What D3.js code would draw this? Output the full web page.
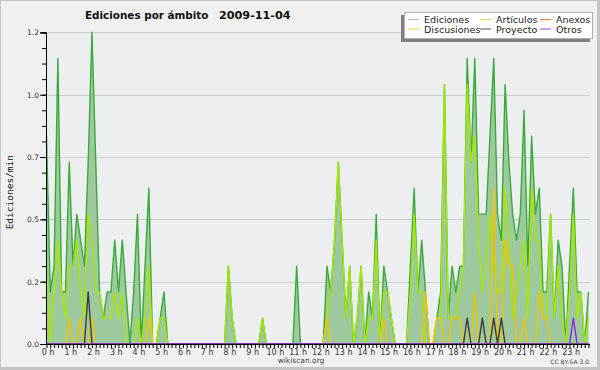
<!DOCTYPE html>
<html><head><meta charset="utf-8">
<script src="https://cdn.jsdelivr.net/npm/d3@7/dist/d3.min.js"></script>
<style>body{margin:0;background:#fff}svg{display:block}</style>
</head><body><svg id="c" width="600" height="370"></svg>
<script>
// ---------- data (10-minute buckets, edits per minute) ----------
const hourLabels = ["0 h","1 h","2 h","3 h","4 h","5 h","6 h","7 h","8 h","9 h","10 h","11 h",
  "12 h","13 h","14 h","15 h","16 h","17 h","18 h","19 h","20 h","21 h","22 h","23 h"];
const yTickValues = [0, 0.24, 0.48, 0.72, 0.96, 1.2];
const yTickLabels = ["0.0","0.2","0.5","0.7","1.0","1.2"];
const seriesNames = ["Ediciones","Artículos","Anexos","Discusiones","Proyecto","Otros"];
const seriesColors = ["#3aab3a","#a6e800","#ff6a2a","#f2c300","#3c3c3c","#8a2be2"];
const legendColors = ["#8fd38f","#c8ee55","#ff7744","#ffcc44","#555555","#9a40ff"];

const ediciones = [
  0.8,0.2,0.3,1.1,0.2,0.2, 0.7,0.3,0.5,0.4,0.3,0.7,
  1.2,0.7,0.2,0.1,0.2,0.2, 0.4,0.2,0.4,0.2,0,0.2,
  0.5,0,0.3,0.6,0,0, 0.1,0.2,0,0,0,0,
  0,0,0,0,0,0, 0,0,0,0,0,0,
  0.3,0.1,0,0,0,0, 0,0,0,0.1,0,0,
  0,0,0,0,0,0, 0.3,0,0,0,0,0,
  0,0,0.3,0.2,0.4,0.7, 0.4,0.1,0.3,0,0.1,0.3,
  0,0.2,0.1,0.5,0,0.3, 0.2,0.1,0,0,0,0,
  0.3,0.6,0.2,0.4,0.2,0, 0,0.1,0.2,1.0,0.1,0.3,
  0.2,0.3,0.3,1.1,0.7,1.1, 0.5,0.5,0.5,0.8,1.1,0.5,
  0.4,1.0,0.7,0.5,0.4,0.5, 0.9,0.3,0.8,0.5,0.6,0.2,
  0.2,0.5,0.1,0.4,0.3,0, 0.3,0.6,0.2,0.2,0,0.2];
const articulos = [
  0.3,0,0.2,0.4,0.2,0.1, 0.3,0.3,0.4,0.2,0.1,0.5,
  0.4,0.2,0.2,0.1,0.1,0.1, 0.2,0.1,0.2,0,0,0,
  0.1,0,0.1,0.3,0,0, 0.1,0.1,0,0,0,0,
  0,0,0,0,0,0, 0,0,0,0,0,0,
  0.3,0.1,0,0,0,0, 0,0,0,0.1,0,0,
  0,0,0,0,0,0, 0,0,0,0,0,0,
  0,0,0.1,0.2,0.4,0.7, 0.4,0.1,0.3,0,0.1,0.3,
  0,0.1,0.1,0.4,0,0.2, 0.2,0.1,0,0,0,0,
  0.2,0.5,0.2,0.2,0,0, 0,0.1,0.1,1.0,0.1,0.1,
  0.1,0.2,0.3,1.0,0.7,0.8, 0.4,0.2,0.3,0.5,0.3,0.2,
  0.2,0.6,0.4,0.1,0.2,0.3, 0.4,0.1,0.6,0.4,0.4,0.1,
  0.1,0.5,0.1,0.3,0.1,0, 0.2,0.5,0.1,0.2,0,0.1];
const anexos = [
  0,0,0,0,0,0, 0,0,0,0,0,0,
  0,0,0,0,0,0, 0,0,0,0,0,0,
  0,0,0,0,0,0, 0,0,0,0,0,0,
  0,0,0,0,0,0, 0,0,0,0,0,0,
  0,0,0,0,0,0, 0,0,0,0,0,0,
  0,0,0,0,0,0, 0,0,0,0,0,0,
  0,0,0,0,0,0, 0,0,0,0,0,0,
  0,0,0,0,0,0, 0,0,0,0,0,0,
  0,0,0,0,0,0, 0,0,0,0,0,0,
  0,0,0,0,0,0, 0,0,0,0,0,0,
  0,0,0,0,0,0, 0,0,0,0,0,0,
  0,0,0,0,0,0, 0,0,0,0,0,0];
const discusiones = [
  0,0,0,0,0,0, 0.1,0,0,0.1,0,0,
  0.1,0,0,0,0,0, 0,0,0,0,0,0,
  0,0,0,0.1,0,0, 0,0,0,0,0,0,
  0,0,0,0,0,0, 0,0,0,0,0,0,
  0,0,0,0,0,0, 0,0,0,0,0,0,
  0,0,0,0,0,0, 0,0,0,0,0,0,
  0,0,0.1,0,0,0, 0,0,0,0,0,0,
  0,0,0,0,0,0.1, 0,0,0,0,0,0,
  0,0,0,0,0.2,0, 0,0.1,0.1,0,0,0.1,
  0.1,0.1,0,0,0,0.2, 0,0,0,0,0.6,0,
  0,0.4,0.3,0.3,0,0, 0.1,0,0,0,0.2,0.1,
  0.1,0,0,0,0,0, 0,0,0,0,0,0];
const proyecto = [
  0,0,0,0,0,0, 0,0,0,0,0,0.2,
  0,0,0,0,0,0, 0,0,0,0,0,0,
  0,0,0,0,0,0, 0,0,0,0,0,0,
  0,0,0,0,0,0, 0,0,0,0,0,0,
  0,0,0,0,0,0, 0,0,0,0,0,0,
  0,0,0,0,0,0, 0,0,0,0,0,0,
  0,0,0,0,0,0, 0,0,0,0,0,0,
  0,0,0,0,0,0, 0,0,0,0,0,0,
  0,0,0,0,0,0, 0,0,0,0,0,0,
  0,0,0,0.1,0,0, 0,0.1,0,0,0.1,0,
  0.1,0,0,0,0,0, 0,0,0,0,0,0,
  0,0,0,0,0,0, 0,0,0,0,0,0];
const otros = [
  0,0,0,0,0,0, 0,0,0,0,0,0,
  0,0,0,0,0,0, 0,0,0,0,0,0,
  0,0,0,0,0,0, 0,0,0,0,0,0,
  0,0,0,0,0,0, 0,0,0,0,0,0,
  0,0,0,0,0,0, 0,0,0,0,0,0,
  0,0,0,0,0,0, 0,0,0,0,0,0,
  0,0,0,0,0,0, 0,0,0,0,0,0,
  0,0,0,0,0,0, 0,0,0,0,0,0,
  0,0,0,0,0,0, 0,0,0,0,0,0,
  0,0,0,0,0,0, 0,0,0,0,0,0,
  0,0,0,0,0,0, 0,0,0,0,0,0,
  0,0,0,0,0,0, 0,0.1,0,0,0,0];
const allSeries = [ediciones, articulos, anexos, discusiones, proyecto, otros];

// ---------- layout ----------
const svg = d3.select("#c");
const W = 600, H = 370;
const plot = {left: 46, right: 590, top: 32.4, bottom: 344};
const x = d3.scaleLinear().domain([0, ediciones.length - 1]).range([46.5, 588.5]);
const y = d3.scaleLinear().domain([0, 1.2]).range([plot.bottom, plot.top]);
const FONT = "DejaVu Sans, sans-serif";

// frame
svg.append("rect").attr("width", W).attr("height", H).attr("fill", "#c4c4c4");
svg.append("rect").attr("x", 1).attr("y", 1).attr("width", 596).attr("height", 366).attr("fill", "#f0f0f0");
svg.append("rect").attr("x", plot.left).attr("y", plot.top).attr("width", plot.right - plot.left)
  .attr("height", plot.bottom - plot.top).attr("fill", "#eceef0");

// grid
svg.append("g").selectAll("line").data(yTickValues).join("line")
  .attr("x1", plot.left).attr("x2", plot.right)
  .attr("y1", d => Math.round(y(d)) + 0.5).attr("y2", d => Math.round(y(d)) + 0.5)
  .attr("stroke", "#cdcdcd").attr("stroke-width", 1);

// area + lines
const idx = (d, i) => x(i);
svg.append("path").datum(ediciones)
  .attr("d", d3.area().x(idx).y0(y(0)).y1(d => y(d)))
  .attr("fill", "#9ec99e");
const lineGen = d3.line().x(idx).y(d => y(d));
allSeries.forEach((s, k) => {
  svg.append("path").datum(s).attr("d", lineGen)
    .attr("fill", "none").attr("stroke", seriesColors[k])
    .attr("stroke-width", 1.4).attr("stroke-linejoin", "round");
});

// y axis (minor + major)
const yMinor = d3.range(0, 21).map(k => k * 0.06);
const gy = svg.append("g").attr("transform", `translate(${plot.left},0)`);
gy.call(d3.axisLeft(y).tickValues(yMinor).tickSize(4).tickFormat(""));
const gy2 = svg.append("g").attr("transform", `translate(${plot.left},0)`);
gy2.call(d3.axisLeft(y).tickValues(yTickValues).tickSize(6).tickPadding(1)
  .tickFormat((d, i) => yTickLabels[i]));
[gy, gy2].forEach(g => {
  g.select(".domain").attr("stroke", "#000");
  g.selectAll(".tick line").attr("stroke", "#000");
});
gy2.selectAll("text").attr("font-family", FONT).attr("font-size", 7.5).attr("fill", "#333");

// x axis
const gx = svg.append("g").attr("transform", `translate(0,${plot.bottom})`);
gx.call(d3.axisBottom(x).tickValues(d3.range(ediciones.length)).tickSize(4).tickSizeOuter(0)
  .tickPadding(1).tickFormat(d => d % 6 === 0 ? hourLabels[d / 6] : ""));
gx.select(".domain").attr("stroke", "#000").attr("d", `M${plot.left},0.5H${plot.right}`);
gx.selectAll(".tick line").attr("stroke", "#000");
gx.selectAll("text").attr("font-family", FONT).attr("font-size", 8).attr("fill", "#333").attr("dx", 1);

// axis title
svg.append("text").attr("transform", `translate(13,${(plot.top + plot.bottom) / 2 + 4}) rotate(-90)`)
  .attr("text-anchor", "middle").attr("font-family", "DejaVu Sans Mono, monospace")
  .attr("font-size", 9.5).attr("fill", "#111").text("Ediciones/min");

// title
svg.append("text").attr("x", 85).attr("y", 18.5).attr("font-family", FONT).attr("font-weight", "bold")
  .attr("font-size", 10.4).attr("fill", "#111").text("Ediciones por ámbito");
svg.append("text").attr("x", 219).attr("y", 18.5).attr("font-family", FONT).attr("font-weight", "bold")
  .attr("font-size", 11.2).attr("fill", "#111").text("2009-11-04");

// footer
svg.append("text").attr("x", 301).attr("y", 363).attr("text-anchor", "middle").attr("font-family", FONT)
  .attr("font-size", 7.5).attr("fill", "#444").text("wikiscan.org");
svg.append("text").attr("x", 589).attr("y", 364).attr("text-anchor", "end").attr("font-family", FONT)
  .attr("font-size", 6).attr("fill", "#444").text("CC BY-SA 3.0");

// legend
const lg = svg.append("g");
lg.append("rect").attr("x", 401).attr("y", 15).attr("width", 189).attr("height", 27).attr("fill", "#808080");
lg.append("rect").attr("x", 404.5).attr("y", 12.5).attr("width", 188).attr("height", 26)
  .attr("fill", "#fff").attr("stroke", "#b0b0b0");
const colX = [408, 480, 540];
const rowY = [19.5, 29];
const order = [0, 1, 2, 3, 4, 5];
order.forEach((k, j) => {
  const cx = colX[j % 3], cy = rowY[Math.floor(j / 3)];
  lg.append("line").attr("x1", cx).attr("x2", cx + 11).attr("y1", cy).attr("y2", cy)
    .attr("stroke", legendColors[k]).attr("stroke-width", 1);
  lg.append("text").attr("x", cx + 16).attr("y", cy + 3.5).attr("font-family", FONT)
    .attr("font-size", 9.5).attr("fill", "#222").text(seriesNames[k]);
});
</script></body></html>
